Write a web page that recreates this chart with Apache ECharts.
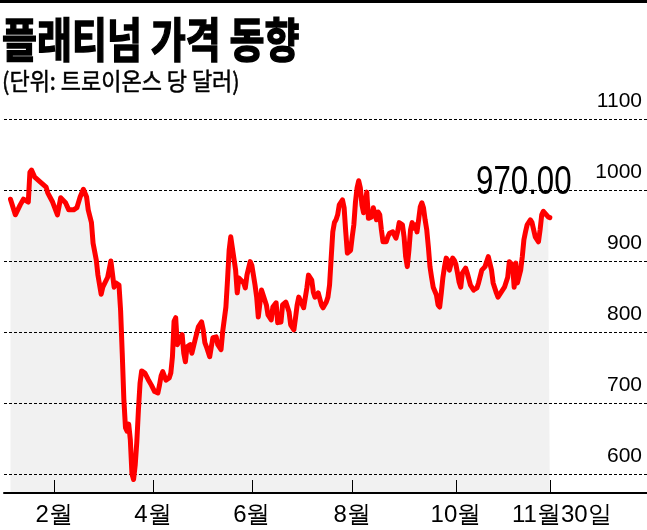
<!DOCTYPE html>
<html><head><meta charset="utf-8">
<script src="https://cdn.jsdelivr.net/npm/echarts@6/dist/echarts.min.js"></script>
<style>html,body{margin:0;padding:0;background:#fff}#c{width:647px;height:530px}</style>
</head><body><div id="c"></div>
<script>
const titleText = '플래티넘 가격 동향';
const subtitleText = '(단위: 트로이온스 당 달러)';
const lastLabel = '970.00';
const year = 2020;
const dates = [
'1/2','1/5','1/8','1/10','1/13','1/14','1/15','1/17','1/21','1/24','1/25','1/28','1/31',
'2/2','2/5','2/7','2/10','2/12','2/14','2/16','2/18','2/19','2/21','2/22','2/24','2/25','2/27','2/28',
'3/2','3/4','3/6','3/7','3/8','3/9','3/10','3/11','3/12','3/13','3/14','3/15','3/16','3/17','3/18','3/19','3/20','3/21','3/22','3/23','3/24','3/25','3/27','3/29','3/31',
'4/2','4/3','4/4','4/5','4/6','4/7','4/9','4/10','4/11','4/12','4/13','4/14','4/15','4/16','4/17','4/18','4/19','4/20','4/22','4/23','4/25','4/27','4/29','4/30',
'5/1','5/2','5/4','5/5','5/6','5/8','5/9','5/11','5/12','5/14','5/15','5/16','5/17','5/18','5/20','5/21','5/22','5/23','5/25','5/26','5/27','5/29','5/30',
'6/1','6/2','6/3','6/5','6/6','6/8','6/9','6/11','6/12','6/14','6/15','6/17','6/18','6/20','6/21','6/22','6/23','6/25','6/26','6/27','6/28','6/29',
'7/1','7/2','7/3','7/4','7/6','7/7','7/8','7/10','7/12','7/13','7/15','7/16','7/17','7/18','7/19','7/20','7/21','7/22','7/23','7/25','7/26','7/27','7/28','7/30','7/31',
'8/1','8/2','8/3','8/4','8/5','8/6','8/7','8/8','8/9','8/10','8/12','8/13','8/15','8/16','8/17','8/18','8/19','8/21','8/22','8/23','8/25','8/26','8/27','8/28','8/29','8/31',
'9/1','9/2','9/3','9/4','9/5','9/6','9/7','9/8','9/9','9/10','9/11','9/12','9/13','9/14','9/15','9/16','9/17','9/18','9/19','9/21','9/22','9/23','9/24','9/25','9/26','9/27','9/28','9/29',
'10/1','10/2','10/3','10/4','10/5','10/6','10/7','10/9','10/10','10/12','10/14','10/16','10/17','10/19','10/21','10/23','10/25','10/26','10/28','10/29','10/31',
'11/2','11/4','11/5','11/7','11/8','11/9','11/10','11/12','11/13','11/14','11/15','11/16','11/18','11/19','11/21','11/23','11/24','11/25','11/26','11/27','11/29','11/30'
];
const prices = [
987,965,979,987,983,1025,1028,1018,1010,1004,996,983,965,
989,982,972,972,975,990,1001,990,972,954,925,901,880,853,863,
877,900,863,869,871,866,830,770,705,665,660,670,648,600,592,612,645,690,728,745,746,742,733,725,716,
714,725,738,744,738,732,735,742,765,815,820,782,787,792,796,770,758,779,782,770,789,807,814,803,
785,779,765,779,792,793,782,775,800,835,873,915,934,932,887,855,876,877,869,862,880,899,894,
866,849,821,859,859,838,824,817,835,841,813,814,838,842,842,828,810,803,820,838,849,848,
834,834,862,880,873,856,849,855,838,834,842,849,866,904,941,954,958,965,979,986,975,941,911,915,934,
951,983,1003,1013,1003,979,968,983,997,960,962,975,958,969,965,944,927,927,934,939,941,939,932,941,954,951,
934,906,892,915,944,954,946,951,941,958,976,982,975,958,944,920,892,877,863,852,838,835,855,877,892,904,901,887,
904,901,895,883,870,863,883,890,883,866,859,862,869,887,892,906,887,869,855,849,856,
863,877,899,894,863,897,869,887,906,930,941,951,958,954,934,927,944,965,970,968,962,961
];
const yTicks = [600, 700, 800, 900, 1000, 1100];
const xTickDates = ['2020/1/29', '2020/3/30', '2020/5/30', '2020/7/31', '2020/10/3', '2020/11/30'];
const xTickLabels = ['2월', '4월', '6월', '8월', '10월', '11월30일'];
const xMin = '2019/12/29', xMax = '2021/1/29';
const yMin = 573, yMax = 1100;

// x values: days elapsed since Jan 1 of the year
const DAY = 86400000;
function dayNo(s) { const p = s.split('/').map(Number); return Math.round((Date.UTC(p[0], p[1] - 1, p[2]) - Date.UTC(year, 0, 1)) / DAY); }
const seriesData = dates.map((d, i) => [dayNo(year + '/' + d), prices[i]]);
const xTickDays = xTickDates.map(dayNo);
const SANS = "'Liberation Sans',Arial,sans-serif";
const KR = "'Noto Sans CJK KR',sans-serif";
const lastPoint = seriesData[seriesData.length - 1];

const chart = echarts.init(document.getElementById('c'), null, { renderer: 'canvas' });
chart.setOption({
  animation: false,
  backgroundColor: '#ffffff',
  grid: { left: 4, right: 0, top: 119, bottom: 37 },
  xAxis: {
    type: 'value', min: dayNo(xMin), max: dayNo(xMax), z: 4,
    axisLine: { show: true, lineStyle: { color: '#000', width: 2 } },
    axisTick: { show: true, inside: true, length: 13, customValues: xTickDays, lineStyle: { color: '#000', width: 1 } },
    axisLabel: {
      show: true, customValues: xTickDays, margin: 10, color: '#000', fontSize: 24, fontFamily: SANS,
      formatter: function (v) {
        const i = xTickDays.indexOf(Math.round(v));
        if (i < 0) return '';
        return i === xTickDays.length - 1 ? '{e|' + xTickLabels[i] + '}' : xTickLabels[i];
      },
      rich: { e: { padding: [0, 0, 0, 24], fontSize: 24, fontFamily: SANS, color: '#000' } }
    },
    splitLine: { show: false }
  },
  yAxis: {
    type: 'value', position: 'right', min: yMin, max: yMax, z: 2,
    axisLine: { show: false },
    axisTick: { show: false, customValues: yTicks },
    axisLabel: {
      customValues: yTicks, inside: true, margin: 5, verticalAlign: 'bottom', padding: [0, 0, 7, 0],
      fontSize: 21, color: '#000', fontFamily: SANS, formatter: v => String(v)
    },
    splitLine: { show: true, lineStyle: { color: '#000', type: [3, 2], width: 1 } }
  },
  series: [
    {
      type: 'line', data: seriesData, symbol: 'none', z: 1, silent: true,
      lineStyle: { width: 0 },
      areaStyle: { color: '#f1f1f1', opacity: 1, origin: 'start' }
    },
    {
      type: 'line', data: seriesData, symbol: 'none', z: 3,
      lineStyle: { color: '#ff0000', width: 5, join: 'round', cap: 'round' }
    }
  ],
  graphic: [
    { type: 'rect', shape: { x: 0, y: 0, width: 647, height: 3 }, style: { fill: '#000' } },
    { type: 'text', x: 2, y: 39, scaleX: 0.81, style: { text: titleText, fontSize: 47, fontWeight: 'bold', fontFamily: KR, fill: '#000', stroke: '#000', lineWidth: 1.5, verticalAlign: 'middle' } },
    { type: 'text', x: 2, y: 81, scaleX: 0.915, style: { text: subtitleText, fontSize: 24, fontWeight: 'normal', fontFamily: KR, fill: '#000', stroke: '#000', lineWidth: 0.5, verticalAlign: 'middle' } }
  ]
});
// value label of the last point, placed from the series' own coordinate system
const lp = chart.convertToPixel({ seriesIndex: 1 }, lastPoint);
chart.setOption({
  graphic: [{
    id: 'lastValue', type: 'text', x: lp[0] - 26, y: lp[1] - 35, scaleX: 0.78, z: 10,
    style: { text: lastLabel, fontSize: 40, fontFamily: SANS, fill: '#000', align: 'center', verticalAlign: 'middle' }
  }]
});
</script></body></html>
